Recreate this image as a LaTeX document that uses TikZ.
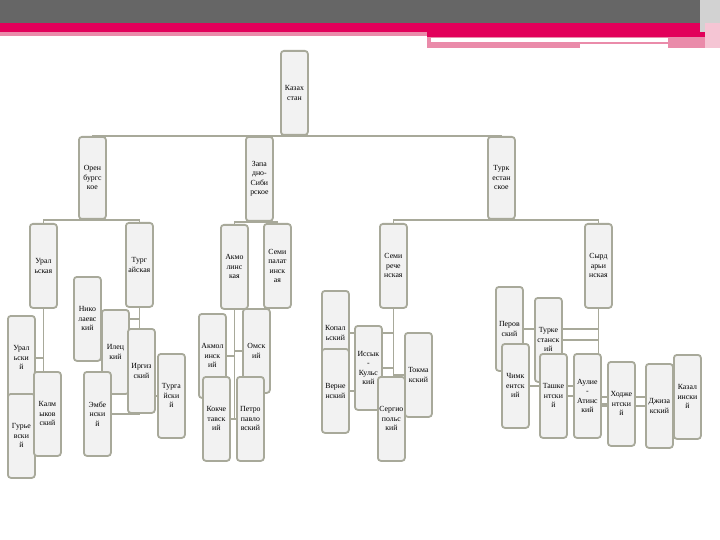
\documentclass[tikz,border=0pt]{standalone}
\usepackage{fontspec}
\setmainfont{Liberation Serif}
\usepackage{xcolor}
\usetikzlibrary{backgrounds}

\definecolor{hdrgray}{HTML}{666666}
\definecolor{hdrred}{HTML}{E2005A}
\definecolor{hdrpink}{HTML}{EA8BAA}
\definecolor{boxline}{HTML}{A8A99A}
\definecolor{boxfill}{HTML}{F2F2F2}

\begin{document}
\begin{tikzpicture}[
    x=1pt, y=-1pt,
    box/.style={rectangle, draw=boxline, fill=boxfill, line width=1.8pt, rounded corners=3pt,
        minimum width=27pt, minimum height=84pt, inner sep=0.5pt, align=center, anchor=north west,
        font=\fontsize{7.8}{9.5}\selectfont},
    link/.style={draw=boxline, line width=1.8pt}
]
    \useasboundingbox (0,0) rectangle (720,540);

    % Header bands
    \fill[hdrgray] (0,0) rectangle (700,23);
    \fill[gray!35] (700,0) rectangle (720,48);
    \fill[hdrred] (0,23) rectangle (700,32);
    \fill[hdrpink] (0,32) rectangle (427,36);
    \fill[hdrred] (427,32) rectangle (705,37);
    \fill[hdrpink] (427,37) rectangle (705,48);
    \fill[white] (431,38) rectangle (668,42);
    \fill[white] (580,44) rectangle (668,48);
    \fill[hdrpink!50] (705,23) rectangle (720,48);

    % Top
    \node[box] (kaz) at (280,50) {Казах\\стан};

    % Governorates
    \node[box, minimum height=82pt] (oren) at (78,136) {Орен\\бургс\\кое};
    \node[box] (zap) at (245,136) {Запа\\дно-\\Сиби\\рское};
    \node[box, minimum height=82pt] (turk) at (487,136) {Турк\\естан\\ское};

    % Oblasts
    \node[box] (ural) at (29,223) {Урал\\ьская};
    \node[box] (turg) at (125,222) {Тург\\айская};
    \node[box] (akm) at (220,224) {Акмо\\линс\\кая};
    \node[box] (semip) at (263,223) {Семи\\палат\\инск\\ая};
    \node[box] (semir) at (379,223) {Семи\\рече\\нская};
    \node[box] (syr) at (584,223) {Сырд\\арьи\\нская};

    % Uezds: Ural and Turgai
    \node[box] (nikol) at (73,276) {Нико\\лаевс\\кий};
    \node[box] (uralsk) at (7,315) {Урал\\ьски\\й};
    \node[box] (gurev) at (7,393) {Гурье\\вски\\й};
    \node[box] (kalm) at (33,371) {Калм\\ыков\\ский};
    \node[box] (ilek) at (101,309) {Илец\\кий};
    \node[box] (emba) at (83,371) {Эмбе\\нски\\й};
    \node[box] (irgiz) at (127,328) {Иргиз\\ский};
    \node[box] (turgai) at (157,353) {Турга\\йски\\й};

    % Uezds: Akmolinsk
    \node[box] (akmd) at (198,313) {Акмол\\инск\\ий};
    \node[box] (omsk) at (242,308) {Омск\\ий};
    \node[box] (kokch) at (202,376) {Кокче\\тавск\\ий};
    \node[box] (petro) at (236,376) {Петро\\павло\\вский};

    % Uezds: Semirechye
    \node[box] (kopal) at (321,290) {Копал\\ьский};
    \node[box] (vern) at (321,348) {Верне\\нский};
    \node[box] (issyk) at (354,325) {Иссык\\-\\Кульс\\кий};
    \node[box] (tokm) at (404,332) {Токма\\кский};
    \node[box] (sergio) at (377,376) {Сергио\\польс\\кий};

    % Uezds: Syr-Darya
    \node[box] (perov) at (495,286) {Перов\\ский};
    \node[box] (turkd) at (534,297) {Турке\\станск\\ий};
    \node[box] (chimk) at (501,343) {Чимк\\ентск\\ий};
    \node[box] (tashk) at (539,353) {Ташке\\нтски\\й};
    \node[box] (aulie) at (573,353) {Аулие\\-\\Атинс\\кий};
    \node[box] (khodzh) at (607,361) {Ходже\\нтски\\й};
    \node[box] (dzhiz) at (645,363) {Джиза\\кский};
    \node[box] (kazal) at (673,354) {Казал\\ински\\й};

    % Connectors
    \begin{pgfonlayer}{background}
    \draw[link] (oren.north) |- (kaz.south) -| (turk.north);
    \draw[link] (zap.north) |- (kaz.south);

    \draw[link] (ural.north) |- (oren.south) -| (turg.north);
    \draw[link] (akm.north) |- (zap.south) -| (semip.north);
    \draw[link] (semir.north) |- (turk.south) -| (syr.north);

    \draw[link] (ural.south) |- (uralsk.east);
    \draw[link] (ural.south) |- (gurev.east);
    \draw[link] (ural.south) |- (kalm.west);
    \draw[link] (turg.south) |- (nikol.east);
    \draw[link] (turg.south) |- (ilek.east);
    \draw[link] (turg.south) |- (emba.east);
    \draw[link] (turg.south) |- (irgiz.west);
    \draw[link] (turg.south) |- (turgai.west);

    \draw[link] (akm.south) |- (akmd.east);
    \draw[link] (akm.south) |- (kokch.east);
    \draw[link] (akm.south) |- (omsk.west);
    \draw[link] (akm.south) |- (petro.west);

    \draw[link] (semir.south) |- (kopal.east);
    \draw[link] (semir.south) |- (vern.east);
    \draw[link] (semir.south) |- (issyk.east);
    \draw[link] (semir.south) |- (sergio.west);
    \draw[link] (semir.south) |- (tokm.west);

    \draw[link] (syr.south) |- (perov.east);
    \draw[link] (syr.south) |- (turkd.east);
    \draw[link] (syr.south) |- (chimk.east);
    \draw[link] (syr.south) |- (tashk.east);
    \draw[link] (syr.south) |- (aulie.east);
    \draw[link] (syr.south) |- (khodzh.west);
    \draw[link] (syr.south) |- (dzhiz.west);
    \draw[link] (syr.south) |- (kazal.west);
    \end{pgfonlayer}

\end{tikzpicture}
\end{document}
